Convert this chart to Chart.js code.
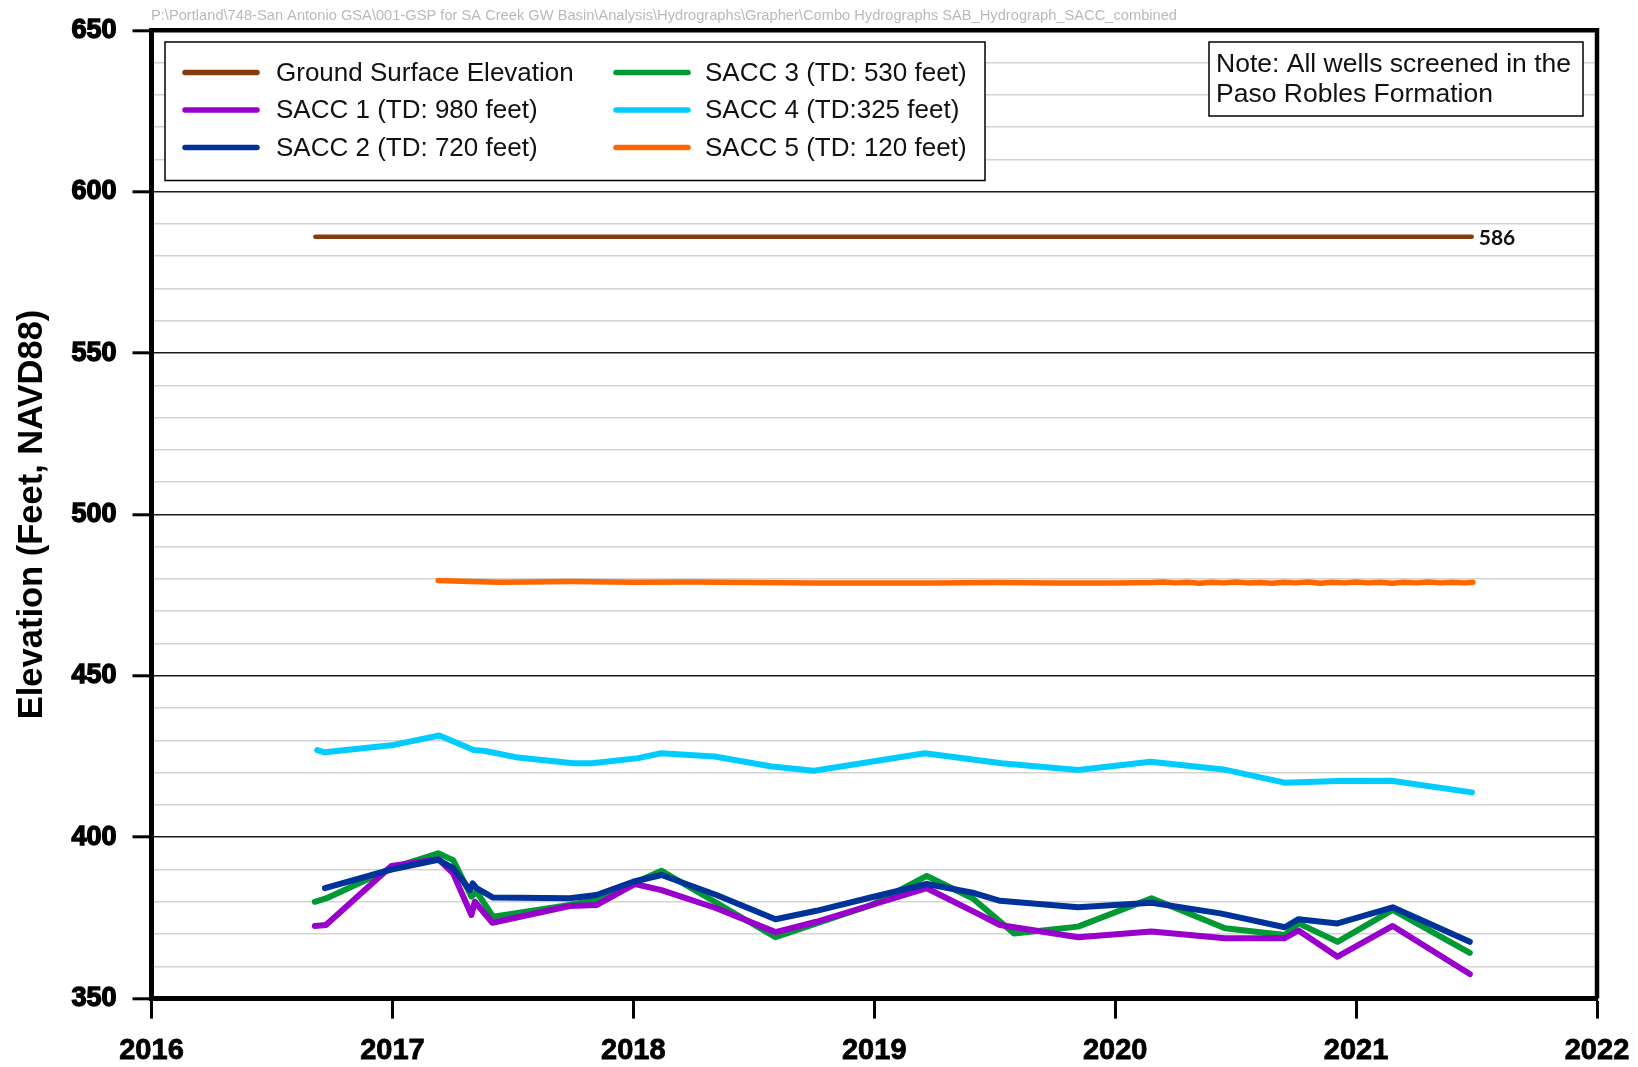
<!DOCTYPE html>
<html>
<head>
<meta charset="utf-8">
<script src="https://cdn.jsdelivr.net/npm/chart.js@4.4.1/dist/chart.umd.min.js"></script>
<style>
  html, body { margin: 0; padding: 0; background: #ffffff; }
  #wrap { width: 1638px; height: 1067px; position: relative; }
  canvas { display: block; }
</style>
</head>
<body>
<div id="wrap"><canvas id="hydro" width="1638" height="1067"></canvas></div>
<script>
// Well hydrographs, San Antonio Creek basin (decimal years vs. elevation, ft NAVD88)
const filePath = 'P:\\Portland\\748-San Antonio GSA\\001-GSP for SA Creek GW Basin\\Analysis\\Hydrographs\\Grapher\\Combo Hydrographs SAB_Hydrograph_SACC_combined';
const axisTitle = 'Elevation (Feet, NAVD88)';
const noteLines = ['Note: All wells screened in the', 'Paso Robles Formation'];
const yearTicks = [2016, 2017, 2018, 2019, 2020, 2021, 2022];

const seriesLabels = [
  'Ground Surface Elevation',
  'SACC 1 (TD: 980 feet)',
  'SACC 2 (TD: 720 feet)',
  'SACC 3 (TD: 530 feet)',
  'SACC 4 (TD:325 feet)',
  'SACC 5 (TD: 120 feet)'
];
const seriesColors = ['#843C0C', '#9900CC', '#003399', '#009933', '#00CCFF', '#FF6600'];

const groundYears = [2016.68, 2021.48];
const groundElev  = [586, 586];

const sacc1Years = [2016.678, 2016.724, 2016.996, 2017.190, 2017.252, 2017.328, 2017.342, 2017.415, 2017.736, 2017.847, 2018.006, 2018.117, 2018.345, 2018.590, 2018.760, 2018.989, 2019.218, 2019.427, 2019.522, 2019.846, 2020.151, 2020.456, 2020.704, 2020.761, 2020.923, 2021.152, 2021.472];
const sacc1Elev  = [372.5, 372.8, 391.1, 393.2, 388.8, 375.9, 380.0, 373.5, 378.7, 379.0, 385.5, 383.6, 378.0, 370.6, 373.8, 379.0, 384.2, 376.4, 372.8, 369.0, 370.8, 368.7, 368.7, 371.1, 363.0, 372.5, 357.6];

const sacc2Years = [2016.720, 2016.996, 2017.190, 2017.252, 2017.322, 2017.333, 2017.349, 2017.418, 2017.736, 2017.847, 2017.999, 2018.117, 2018.345, 2018.590, 2018.760, 2018.989, 2019.218, 2019.408, 2019.522, 2019.846, 2020.151, 2020.437, 2020.704, 2020.761, 2020.923, 2021.152, 2021.472];
const sacc2Elev  = [384.2, 390.0, 393.0, 390.4, 383.6, 385.7, 384.2, 381.3, 381.1, 382.1, 386.2, 388.3, 382.1, 374.6, 377.2, 381.4, 385.5, 382.8, 380.3, 378.3, 379.7, 376.4, 372.1, 374.6, 373.3, 378.3, 367.6];

const sacc3Years = [2016.678, 2016.727, 2016.996, 2017.190, 2017.252, 2017.328, 2017.349, 2017.418, 2017.736, 2017.847, 2017.999, 2018.117, 2018.345, 2018.590, 2018.760, 2018.989, 2019.218, 2019.408, 2019.580, 2019.846, 2020.151, 2020.456, 2020.704, 2020.761, 2020.923, 2021.152, 2021.472];
const sacc3Elev  = [380.0, 381.1, 390.4, 395.0, 392.9, 381.6, 383.1, 375.4, 379.0, 380.6, 385.7, 389.6, 379.7, 369.0, 373.3, 379.0, 388.0, 381.1, 370.2, 372.3, 381.1, 371.8, 369.7, 373.3, 367.6, 377.5, 364.2];

const sacc4Years = [2016.688, 2016.719, 2017.005, 2017.195, 2017.337, 2017.385, 2017.512, 2017.750, 2017.829, 2018.020, 2018.115, 2018.337, 2018.575, 2018.750, 2019.210, 2019.528, 2019.846, 2020.147, 2020.449, 2020.703, 2020.925, 2021.147, 2021.481];
const sacc4Elev  = [427.0, 426.3, 428.6, 431.5, 427.0, 426.7, 424.8, 422.9, 422.9, 424.5, 426.0, 425.0, 421.9, 420.6, 426.0, 422.9, 420.8, 423.4, 421.0, 416.9, 417.4, 417.5, 413.9];

const sacc5Years = [2017.19, 2017.25, 2017.45, 2017.75, 2018.00, 2018.25, 2018.50, 2018.75, 2019.00, 2019.25, 2019.50, 2019.75, 2020.00, 2020.15, 2020.20, 2020.25, 2020.30, 2020.35, 2020.40, 2020.45, 2020.50, 2020.55, 2020.60, 2020.65, 2020.70, 2020.75, 2020.80, 2020.85, 2020.90, 2020.95, 2021.00, 2021.05, 2021.10, 2021.15, 2021.20, 2021.25, 2021.30, 2021.35, 2021.40, 2021.45, 2021.485];
const sacc5Elev  = [479.5, 479.4, 479.0, 479.2, 479.0, 479.1, 478.9, 478.8, 478.8, 478.8, 478.9, 478.8, 478.8, 478.9, 479.1, 478.8, 479.0, 478.7, 479.0, 478.8, 479.1, 478.8, 478.9, 478.7, 479.0, 478.8, 479.1, 478.7, 479.0, 478.8, 479.1, 478.8, 479.0, 478.7, 479.0, 478.8, 479.1, 478.8, 479.0, 478.8, 479.0];

const pairs = (xs, ys) => xs.map((x, i) => ({ x: x, y: ys[i] }));
const seriesData = [
  pairs(groundYears, groundElev),
  pairs(sacc1Years, sacc1Elev),
  pairs(sacc2Years, sacc2Elev),
  pairs(sacc3Years, sacc3Elev),
  pairs(sacc4Years, sacc4Elev),
  pairs(sacc5Years, sacc5Elev)
];
// drawing order: lower number is painted on top
const drawOrder = [6, 2, 1, 3, 4, 5];
const lineWidths = [4.5, 6, 6, 6, 6, 5.5];

const FONT = '"Liberation Sans", Arial, sans-serif';

// Frame, file path, legend, note and end-value label
const decorations = {
  id: 'decorations',
  afterDraw(chart) {
    const ctx = chart.ctx;
    const area = chart.chartArea;
    const xs = chart.scales.x, ys = chart.scales.y;
    ctx.save();

    // top and right frame
    ctx.strokeStyle = '#000';
    ctx.lineWidth = 4.5;
    ctx.beginPath();
    ctx.moveTo(area.left, area.top);
    ctx.lineTo(area.right, area.top);
    ctx.lineTo(area.right, area.bottom);
    ctx.stroke();

    // file path header
    ctx.font = '14.5px ' + FONT;
    ctx.fillStyle = '#b9b9b9';
    ctx.textBaseline = 'middle';
    ctx.textAlign = 'left';
    const pw = ctx.measureText(filePath).width;
    ctx.save();
    ctx.translate(151, 15.5);
    ctx.scale(1026 / pw, 1);
    ctx.fillText(filePath, 0, 0);
    ctx.restore();

    // legend box
    ctx.fillStyle = '#fff';
    ctx.fillRect(165, 42, 820, 138.5);
    ctx.strokeStyle = '#000';
    ctx.lineWidth = 1.5;
    ctx.strokeRect(165, 42, 820, 138.5);
    const ds = chart.data.datasets;
    const rowsY = [72.5, 110, 147.5];
    const cols = [{ x0: 185, x1: 257, tx: 276 }, { x0: 616, x1: 688, tx: 705 }];
    ctx.font = '26px ' + FONT;
    ctx.textBaseline = 'middle';
    ds.forEach((d, i) => {
      const c = cols[Math.floor(i / 3)];
      const y = rowsY[i % 3];
      ctx.strokeStyle = d.borderColor;
      ctx.lineWidth = 5.5;
      ctx.lineCap = 'round';
      ctx.beginPath();
      ctx.moveTo(c.x0, y);
      ctx.lineTo(c.x1, y);
      ctx.stroke();
      ctx.fillStyle = '#111';
      ctx.fillText(d.label, c.tx, y + 1);
    });

    // note box
    ctx.fillStyle = '#fff';
    ctx.fillRect(1209, 42, 374, 74);
    ctx.strokeStyle = '#000';
    ctx.lineWidth = 1.5;
    ctx.strokeRect(1209, 42, 374, 74);
    ctx.fillStyle = '#111';
    ctx.font = '26.5px ' + FONT;
    ctx.fillText(noteLines[0], 1216, 65);
    ctx.fillText(noteLines[1], 1216, 95);

    // end value of the ground surface line
    const g = ds[0].data[ds[0].data.length - 1];
    ctx.font = 'bold 21px Lato, "Open Sans", sans-serif';
    ctx.fillStyle = '#111';
    ctx.textBaseline = 'middle';
    ctx.fillText(String(g.y), xs.getPixelForValue(g.x) + 7, ys.getPixelForValue(g.y) + 1);

    ctx.restore();
  }
};

new Chart(document.getElementById('hydro'), {
  type: 'line',
  data: {
    datasets: seriesData.map((d, i) => ({
      label: seriesLabels[i],
      data: d,
      borderColor: seriesColors[i],
      backgroundColor: seriesColors[i],
      borderWidth: lineWidths[i],
      borderCapStyle: 'round',
      borderJoinStyle: 'round',
      pointRadius: 0,
      pointHoverRadius: 0,
      tension: 0,
      fill: false,
      order: drawOrder[i]
    }))
  },
  options: {
    responsive: false,
    animation: false,
    devicePixelRatio: 1,
    layout: { padding: { left: 0, top: 30.3, right: 41, bottom: 0 } },
    plugins: {
      legend: { display: false },
      tooltip: { enabled: false },
      title: { display: false }
    },
    scales: {
      x: {
        type: 'linear',
        min: 2016,
        max: 2022,
        afterBuildTicks: (s) => { s.ticks = yearTicks.map(v => ({ value: v })); },
        afterFit: (s) => { s.height = 68.4; s.paddingLeft = 0; s.paddingRight = 0; },
        ticks: {
          autoSkip: false,
          maxRotation: 0,
          padding: 15,
          color: '#000',
          textStrokeColor: '#000',
          textStrokeWidth: 0.8,
          font: { family: FONT, weight: 'bold', size: 29 },
          callback: (v) => String(v)
        },
        grid: {
          drawOnChartArea: false,
          drawTicks: true,
          tickLength: 20,
          tickColor: '#000',
          tickWidth: 3
        },
        border: { display: true, color: '#000', width: 5 }
      },
      y: {
        min: 350,
        max: 650,
        afterFit: (s) => { s.width = 151.5; s.paddingTop = 0; s.paddingBottom = 0; },
        ticks: {
          stepSize: 10,
          autoSkip: false,
          padding: 16,
          color: '#000',
          textStrokeColor: '#000',
          textStrokeWidth: 1.4,
          font: { family: FONT, weight: 'bold', size: 27 },
          callback: (v) => (v % 50 === 0 ? String(v) : '')
        },
        grid: {
          color: (c) => (c.tick && c.tick.value % 50 === 0 ? '#1a1a1a' : '#d3d3d3'),
          lineWidth: 1.6,
          drawTicks: true,
          tickLength: 19,
          tickColor: (c) => (c.tick && c.tick.value % 50 === 0 ? '#000' : 'rgba(0,0,0,0)'),
          tickWidth: 3
        },
        border: { display: true, color: '#000', width: 5 },
        title: {
          display: true,
          text: axisTitle,
          color: '#000',
          padding: { top: 12, bottom: 0 },
          font: { family: FONT, weight: 'bold', size: 34.5 }
        }
      }
    }
  },
  plugins: [decorations]
});
</script>
</body>
</html>
